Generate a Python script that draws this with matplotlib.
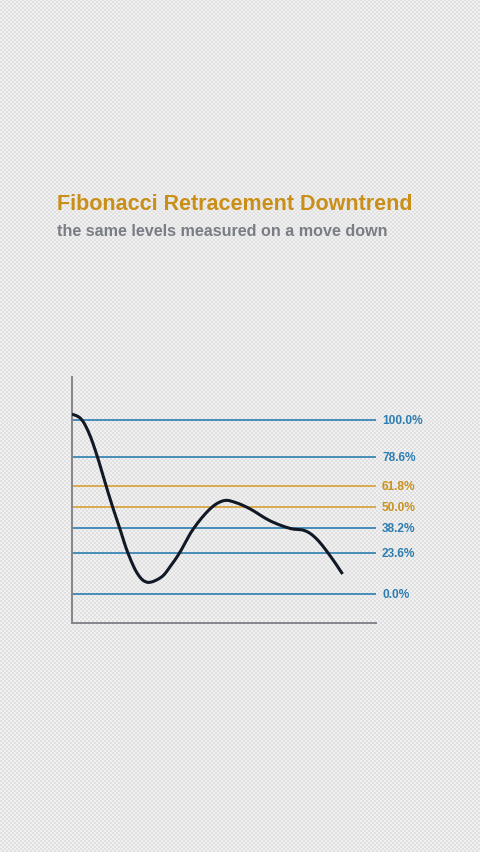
import numpy as np
import matplotlib
matplotlib.use("Agg")
import matplotlib.pyplot as plt

# === DATA ===
levels = [100.0, 78.6, 61.8, 50.0, 38.2, 23.6, 0.0]
level_labels = ["100.0%", "78.6%", "61.8%", "50.0%", "38.2%", "23.6%", "0.0%"]
golden = [61.8, 50.0]

# price path (x: 0-100 across the plot, y: retracement %)
path_x = [0.0, 3.0, 5.7, 8.4, 11.2, 13.4, 15.6, 18.3, 21.6, 24.9, 29.3, 32.2, 35.5, 39.9, 45.4,
          49.8, 53.6, 58.6, 65.1, 71.7, 76.6, 80.5, 84.9, 89.0]
path_y = [103.4, 100.6, 92.0, 78.6, 62.2, 49.8, 38.3, 24.0, 11.5, 6.7, 9.6, 15.5, 24.0, 37.4, 48.9,
          53.6, 52.7, 48.9, 42.1, 37.7, 36.4, 31.6, 22.0, 11.5]

# === COLORS ===
blue = "#3a86b4"
blue_txt = "#2d7db0"
gold = "#d8a645"
gold_txt = "#c8921e"
ink = "#111826"


def smooth(xs, ys, n=12):
    # Catmull-Rom smoothing for drawing only
    xs, ys = np.asarray(xs), np.asarray(ys)
    px = np.r_[xs[0], xs, xs[-1]]
    py = np.r_[ys[0], ys, ys[-1]]
    ox, oy = [], []
    t = np.linspace(0, 1, n, endpoint=False)
    for i in range(1, len(px) - 2):
        for p, o in ((px, ox), (py, oy)):
            p0, p1, p2, p3 = p[i - 1], p[i], p[i + 1], p[i + 2]
            o.extend(0.5 * (2 * p1 + (-p0 + p2) * t + (2 * p0 - 5 * p1 + 4 * p2 - p3) * t ** 2
                            + (-p0 + 3 * p1 - 3 * p2 + p3) * t ** 3))
    ox.append(xs[-1]); oy.append(ys[-1])
    return np.array(ox), np.array(oy)


W, H = 480, 853
fig = plt.figure(figsize=(W / 100, H / 100), dpi=100)

# === BACKGROUND (fine checker texture) ===
bg = fig.add_axes([0, 0, 1, 1])
cell = 2
yy, xx = np.mgrid[0:H // cell + 1, 0:W // cell + 1]
checker = ((xx + yy) % 2).astype(float)
bg.imshow(checker, cmap=matplotlib.colors.ListedColormap(["#f1f1f1", "#e0e0e0"]),
          extent=[0, W, H, 0], interpolation="nearest", aspect="auto")
bg.set_xlim(0, W); bg.set_ylim(H, 0)
bg.axis("off")

# === TITLES ===
fig.text(57 / W, 1 - 205 / H, "Fibonacci Retracement Downtrend", family="Liberation Sans",
         fontsize=15.5, fontweight="bold", color="#c98f18", va="center", ha="left")
fig.text(57 / W, 1 - 232 / H, "the same levels measured on a move down", family="Liberation Sans",
         fontsize=11.6, fontweight="bold", color="#7a7d84", va="center", ha="left")

# === CHART ===
x0, x1 = 72, 376
y_top, y_bot = 378, 624
ax = fig.add_axes([x0 / W, 1 - y_bot / H, (x1 - x0) / W, (y_bot - y_top) / H])
ax.patch.set_alpha(0)
ax.set_xlim(0, 100)
ax.set_ylim((595 - y_bot) / 1.74, (595 - y_top) / 1.74)

for lv, lab in zip(levels, level_labels):
    is_gold = lv in golden
    ax.axhline(lv, color=gold if is_gold else blue, lw=1.3, zorder=2)
    ax.text(102.0, lv, lab, color=gold_txt if is_gold else blue_txt, fontsize=8.6,
            fontweight="bold", family="Liberation Sans", va="center", ha="left", clip_on=False)

sx, sy = smooth(path_x, path_y)
ax.plot(sx, sy, color=ink, lw=2.2, solid_capstyle="butt", zorder=3)

for side in ["top", "right"]:
    ax.spines[side].set_visible(False)
for side in ["left", "bottom"]:
    ax.spines[side].set_color("#85858c")
    ax.spines[side].set_linewidth(1.4)
ax.set_xticks([])
ax.set_yticks([])

fig.savefig("out.png", dpi=100)
